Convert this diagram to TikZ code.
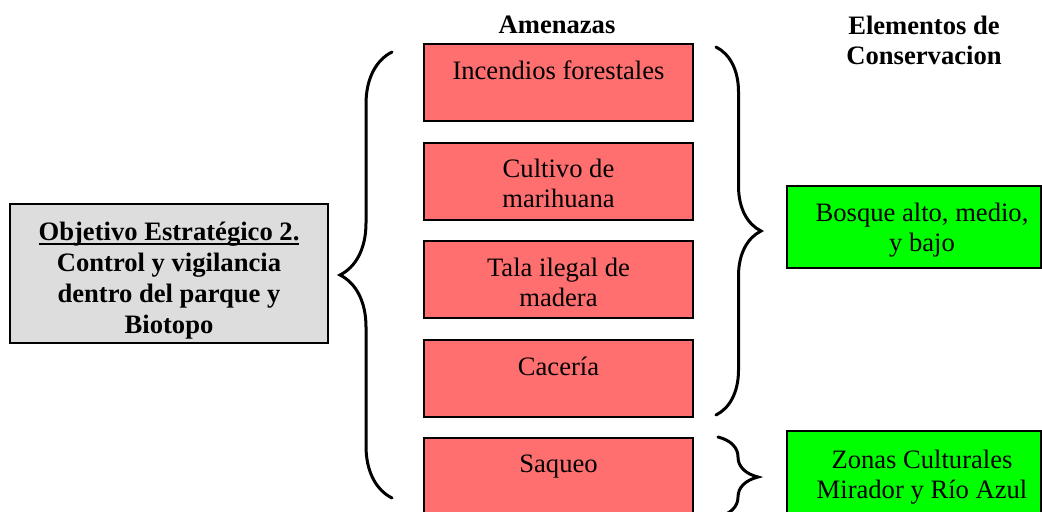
\documentclass[tikz,border=0pt]{standalone}
\usepackage{fontspec}
\setmainfont{Liberation Serif}
\usetikzlibrary{positioning,decorations.pathreplacing}

\definecolor{threatred}{HTML}{FF6F6F}
\definecolor{objgray}{HTML}{DDDDDD}
\definecolor{elemgreen}{HTML}{00FF00}

\newcommand\ulfix[1]{\setbox0\hbox{#1}\rlap{\rule[-2.3pt]{\wd0}{0.8pt}}\box0}

\tikzset{curly/.style={decorate,decoration={brace,amplitude=#1},line width=1.5pt,line cap=round}}

\begin{document}
\begin{tikzpicture}[x=0.5pt,y=-0.5pt,line width=1pt,
                    font=\fontsize{13.3}{15}\selectfont]
  \tikzstyle{objbox}=[draw,fill=objgray,minimum width=159pt,minimum height=69.5pt,inner sep=0pt]
  \tikzstyle{threat}=[draw,fill=threatred,minimum width=134.5pt,minimum height=38.5pt,inner sep=0pt,anchor=north]
  \tikzstyle{elem}=[draw,fill=elemgreen,minimum width=127pt,minimum height=41pt,inner sep=0pt,anchor=north]
  \tikzstyle{txt}=[inner sep=0pt,align=center,anchor=north]
  \tikzstyle{head}=[txt,font=\fontsize{13.3}{15}\selectfont\bfseries]

  \useasboundingbox (0,0) rectangle (1042,511);

  % column headers
  \node[head] (H1) at (557,14.5) {Amenazas};
  \node[head] (H2) at (924,15.5) {Elementos de\\Conservacion};

  % objective
  \node[objbox] (O) at (169,273.5) {};
  \node[txt,font=\fontsize{13.3}{15.5}\selectfont\bfseries,below=9pt of O.north] (Ot)
       {\ulfix{Objetivo Estratégico 2.}\\Control y vigilancia\\dentro del parque y\\Biotopo};

  % threats
  \node[threat] (T1) at (558.5,43) {};
  \node[threat] (T2) [below=9.75pt of T1] {};
  \node[threat] (T3) [below=9.75pt of T2] {};
  \node[threat] (T4) [below=9.75pt of T3] {};
  \node[threat] (T5) [below=9.75pt of T4] {};
  \node[txt,below=8.5pt of T1.north] (T1t) {Incendios forestales};
  \node[txt,below=8.5pt of T2.north] (T2t) {Cultivo de\\marihuana};
  \node[txt,below=8.5pt of T3.north] (T3t) {Tala ilegal de\\madera};
  \node[txt,below=8.5pt of T4.north] (T4t) {Cacería};
  \node[txt,below=8.5pt of T5.north] (T5t) {Saqueo};

  % conservation elements
  \node[elem] (E1) at (914,185) {};
  \node[elem] (E2) at (914,430) {};
  \node[txt,below=8.5pt of E1.north,xshift=4pt] (E1t) {Bosque alto, medio,\\y bajo};
  \node[txt,below=9.5pt of E2.north,xshift=4pt] (E2t) {Zonas Culturales\\Mirador y Río Azul};

  % braces
  \coordinate (B1s) at (392,498);
  \coordinate (B1e) at (392,52);
  \coordinate (B2s) at (716,47);
  \coordinate (B2e) at (716,415);
  \coordinate (B3s) at (718,437);
  \coordinate (B3e) at (718,517);
  \draw[curly=26pt] (B1s) -- (B1e);
  \draw[curly=22.5pt] (B2s) -- (B2e);
  \draw[curly=20pt] (B3s) -- (B3e);
\end{tikzpicture}
\end{document}
